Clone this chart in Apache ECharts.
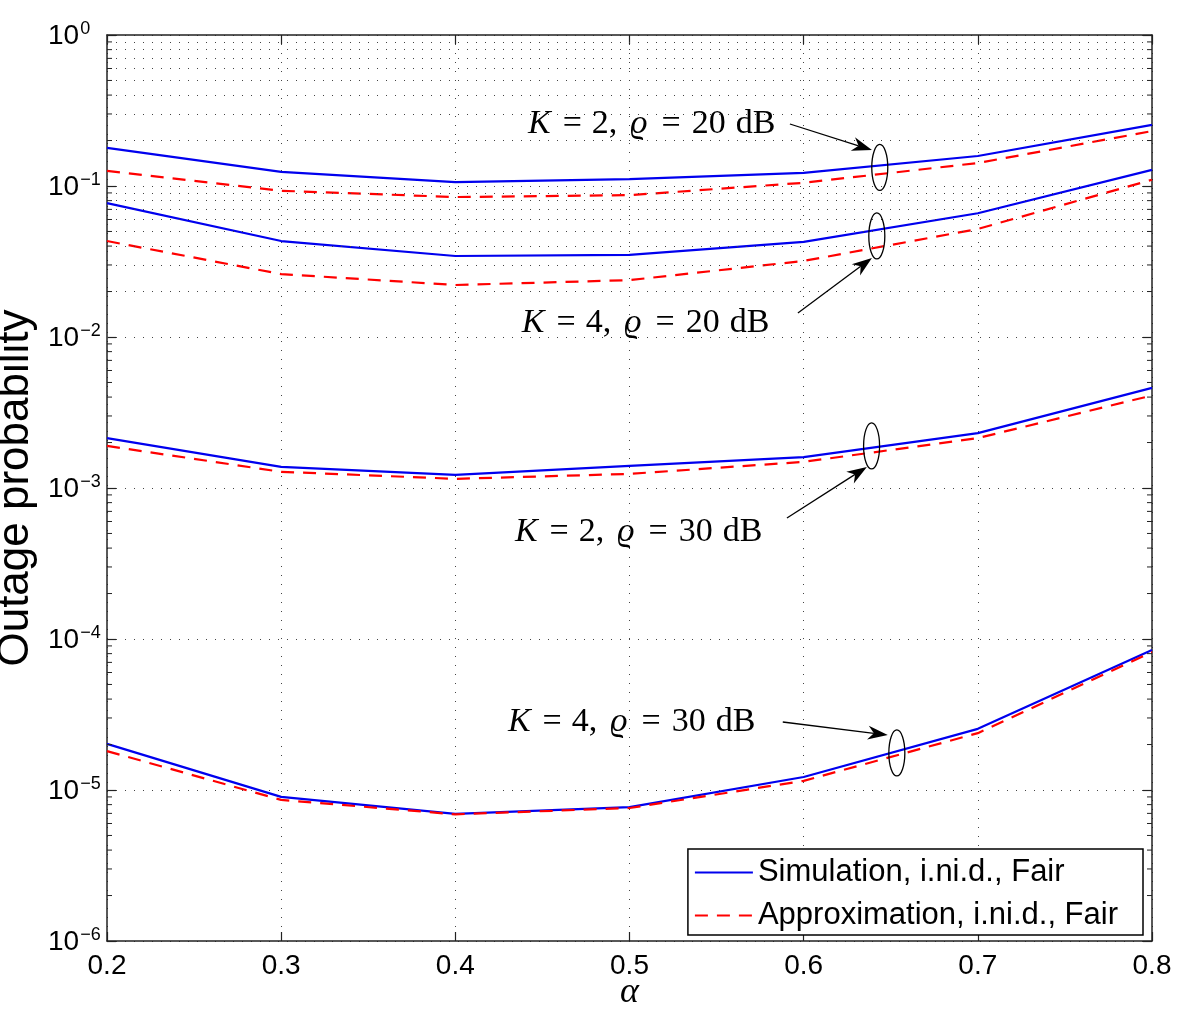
<!DOCTYPE html>
<html><head><meta charset="utf-8">
<script src="https://cdn.jsdelivr.net/npm/echarts@6/dist/echarts.min.js"></script>
<style>html,body{margin:0;padding:0;background:#fff}#c{width:1200px;height:1021px}</style>
</head><body><div id="c"></div>
<script>
// ---- data ----
const alpha = [0.2, 0.3, 0.4, 0.5, 0.6, 0.7, 0.8];
const simK2_20 = [0.179, 0.124, 0.106, 0.111, 0.122, 0.158, 0.254];
const appK2_20 = [0.126, 0.093, 0.0845, 0.087, 0.105, 0.142, 0.231];
const simK4_20 = [0.077, 0.0432, 0.0344, 0.035, 0.0426, 0.066, 0.128];
const appK4_20 = [0.0432, 0.0261, 0.0221, 0.0238, 0.0319, 0.0519, 0.110];
const simK2_30 = [0.00214, 0.00138, 0.00122, 0.0014, 0.0016, 0.00231, 0.0046];
const appK2_30 = [0.0019, 0.00128, 0.00115, 0.00124, 0.00149, 0.00214, 0.0041];
const simK4_30 = [2.02e-5, 9.0e-6, 6.94e-6, 7.7e-6, 1.22e-5, 2.54e-5, 8.45e-5];
const appK4_30 = [1.81e-5, 8.6e-6, 6.9e-6, 7.6e-6, 1.15e-5, 2.38e-5, 8.2e-5];
const xTicks = ['0.2','0.3','0.4','0.5','0.6','0.7','0.8'];
const simName = 'Simulation, i.ni.d., Fair';
const appName = 'Approximation, i.ni.d., Fair';
// annotations (data coordinates)
const annoLabels = [
  ['K','2','20'], ['K','4','20'], ['K','2','30'], ['K','4','30']
];
const annoText = [[0.4417, 0.2574], [0.4382, 0.01238], [0.4342, 5.11e-4], [0.4302, 2.82e-5]];
const annoArrowFrom = [[0.5921, 0.2574], [0.5967, 0.01442], [0.5904, 6.33e-4], [0.588, 2.82e-5]];
const annoArrowTo = [[0.6392, 0.173], [0.6392, 0.0334], [0.6363, 0.00138], [0.6483, 2.31e-5]];
const annoEllipse = [[0.6437, 0.1327], [0.642, 0.0467], [0.639, 0.0019], [0.6535, 1.76e-5]];

// ---- chart ----
const chart = echarts.init(document.getElementById('c'));
const sans = 'Liberation Sans, Arial, Helvetica, sans-serif';
const serif = 'Liberation Serif, Times New Roman, DejaVu Serif, serif';
const gridLine = {show: true, lineStyle: {color: '#444', type: [1, 8], width: 1}};
function mk(name, vals, dashed) {
  return {
    name: name, type: 'line', symbol: 'none', silent: true,
    data: alpha.map((a, i) => [a, vals[i]]),
    lineStyle: dashed ? {color: '#ff0000', width: 2.2, type: [13, 9]} : {color: '#0000ee', width: 2.2, type: 'solid'},
    itemStyle: {color: dashed ? '#ff0000' : '#0000ee'}
  };
}
const minorVals = [];
for (let d = -6; d < 0; d++) for (let m = 2; m <= 9; m++) minorVals.push(m * Math.pow(10, d));

const series = [
  mk(simName, simK2_20, false), mk(appName, appK2_20, true),
  mk(simName, simK4_20, false), mk(appName, appK4_20, true),
  mk(simName, simK2_30, false), mk(appName, appK2_30, true),
  mk(simName, simK4_30, false), mk(appName, appK4_30, true)
];
series[0].markLine = {
  silent: true, symbol: 'none', label: {show: false},
  lineStyle: {color: '#444', type: [1, 8], width: 1},
  data: minorVals.map(v => ({yAxis: v}))
};

const axisLine = {show: true, lineStyle: {color: '#222', width: 1.5}};
const tick = {show: true, inside: true, length: 9, lineStyle: {color: '#222', width: 1.2}};
const option = {
  animation: false,
  backgroundColor: '#fff',
  grid: {left: 107, top: 35, right: 48, bottom: 80, containLabel: false, outerBoundsMode: 'none'},
  legend: {
    right: 57, bottom: 86, orient: 'vertical', selectedMode: false,
    data: [simName, appName],
    backgroundColor: '#fff', borderColor: '#000', borderWidth: 1.5,
    padding: [8, 25, 4, 6], itemGap: 12, itemWidth: 58, itemHeight: 30,
    itemStyle: {opacity: 0},
    textStyle: {fontFamily: sans, fontSize: 31, color: '#000', padding: [0, 0, 0, 0]}
  },
  xAxis: [{
    type: 'value', min: 0.2, max: 0.8, interval: 0.1, position: 'bottom',
    name: 'α', nameLocation: 'middle', nameGap: 34, nameMoveOverlap: false,
    nameTextStyle: {fontFamily: serif, fontStyle: 'italic', fontSize: 36, color: '#000'},
    axisLine: axisLine, axisTick: tick,
    axisLabel: {fontFamily: sans, fontSize: 28, color: '#000', margin: 11, formatter: v => xTicks[Math.round((v - 0.2) * 10)]},
    splitLine: gridLine
  }, {
    type: 'value', min: 0.2, max: 0.8, interval: 0.1, position: 'top',
    axisLine: axisLine, axisTick: tick,
    axisLabel: {show: false}, splitLine: {show: false}
  }],
  yAxis: [{
    type: 'log', logBase: 10, min: 1e-6, max: 1, position: 'left',
    name: 'Outage probability', nameLocation: 'middle', nameGap: 69, nameRotate: 90, nameMoveOverlap: false,
    nameTextStyle: {fontFamily: sans, fontSize: 44, color: '#000'},
    axisLine: axisLine, axisTick: tick,
    axisLabel: {
      margin: 59, align: 'left', color: '#000',
      formatter: v => {
        const e = Math.round(Math.log10(v));
        return '{b|10}{e|' + (e < 0 ? '−' + (-e) : String(e)) + '}';
      },
      rich: {
        b: {fontFamily: sans, fontSize: 28, color: '#000', verticalAlign: 'bottom', lineHeight: 30, padding: [6, 1, 0, 0]},
        e: {fontFamily: sans, fontSize: 18, color: '#000', verticalAlign: 'top', padding: [0, 0, 14, 0], lineHeight: 18}
      }
    },
    splitLine: gridLine
  }, {
    type: 'log', logBase: 10, min: 1e-6, max: 1, position: 'right',
    axisLine: axisLine, axisTick: tick,
    axisLabel: {show: false}, splitLine: {show: false}
  }],
  series: series
};
chart.setOption(option);

// ---- annotations & minor ticks placed via the chart's own scales ----
const g = [];
const P = (p) => chart.convertToPixel({xAxisIndex: 0, yAxisIndex: 0}, p);
minorVals.forEach(v => {
  const l = P([0.2, v]), r = P([0.8, v]);
  g.push({type: 'line', silent: true, shape: {x1: l[0], y1: l[1], x2: l[0] + 5, y2: l[1]}, style: {stroke: '#222', lineWidth: 1}, z: 10});
  g.push({type: 'line', silent: true, shape: {x1: r[0] - 5, y1: r[1], x2: r[0], y2: r[1]}, style: {stroke: '#222', lineWidth: 1}, z: 10});
});
const F = 34;
annoLabels.forEach((lb, i) => {
  const t = P(annoText[i]);
  g.push({
    type: 'text', silent: true, x: t[0], y: t[1], z: 20,
    style: {
      text: '{i|' + lb[0] + '}{q|=}{n|' + lb[1] + ',}{g|ϱ}{r|=}{n|' + lb[2] + '}{u|dB}',
      fill: '#000', font: F + 'px ' + serif, verticalAlign: 'middle',
      rich: {
        i: {fontStyle: 'italic', fontFamily: serif, fontSize: F, fill: '#000', padding: [0, 12, 0, 0]},
        g: {fontStyle: 'italic', fontFamily: serif, fontSize: F, fill: '#000', padding: [0, 14, 0, 13]},
        q: {fontFamily: serif, fontSize: F, fill: '#000', padding: [0, 10, 0, 0]},
        r: {fontFamily: serif, fontSize: F, fill: '#000', padding: [0, 11, 0, 0]},
        n: {fontFamily: serif, fontSize: F, fill: '#000'},
        u: {fontFamily: serif, fontSize: F, fill: '#000', padding: [0, 0, 0, 10]}
      }
    }
  });
  const a = P(annoArrowFrom[i]), b = P(annoArrowTo[i]);
  const ang = Math.atan2(b[1] - a[1], b[0] - a[0]);
  const L = 20, W = 7;
  const bx = b[0] - L * Math.cos(ang), by = b[1] - L * Math.sin(ang);
  const mx = b[0] - 0.7 * L * Math.cos(ang), my = b[1] - 0.7 * L * Math.sin(ang);
  g.push({type: 'line', silent: true, shape: {x1: a[0], y1: a[1], x2: mx, y2: my}, style: {stroke: '#000', lineWidth: 1.3}, z: 20});
  g.push({type: 'polygon', silent: true, z: 20, shape: {points: [
    [b[0], b[1]],
    [bx - W * Math.sin(ang), by + W * Math.cos(ang)],
    [mx, my],
    [bx + W * Math.sin(ang), by - W * Math.cos(ang)]
  ]}, style: {fill: '#000'}});
  const e = P(annoEllipse[i]);
  g.push({type: 'ellipse', silent: true, z: 20, shape: {cx: e[0], cy: e[1], rx: 8, ry: 23}, style: {fill: 'none', stroke: '#000', lineWidth: 1.3}});
});
chart.setOption({graphic: g});
</script>
</body></html>
